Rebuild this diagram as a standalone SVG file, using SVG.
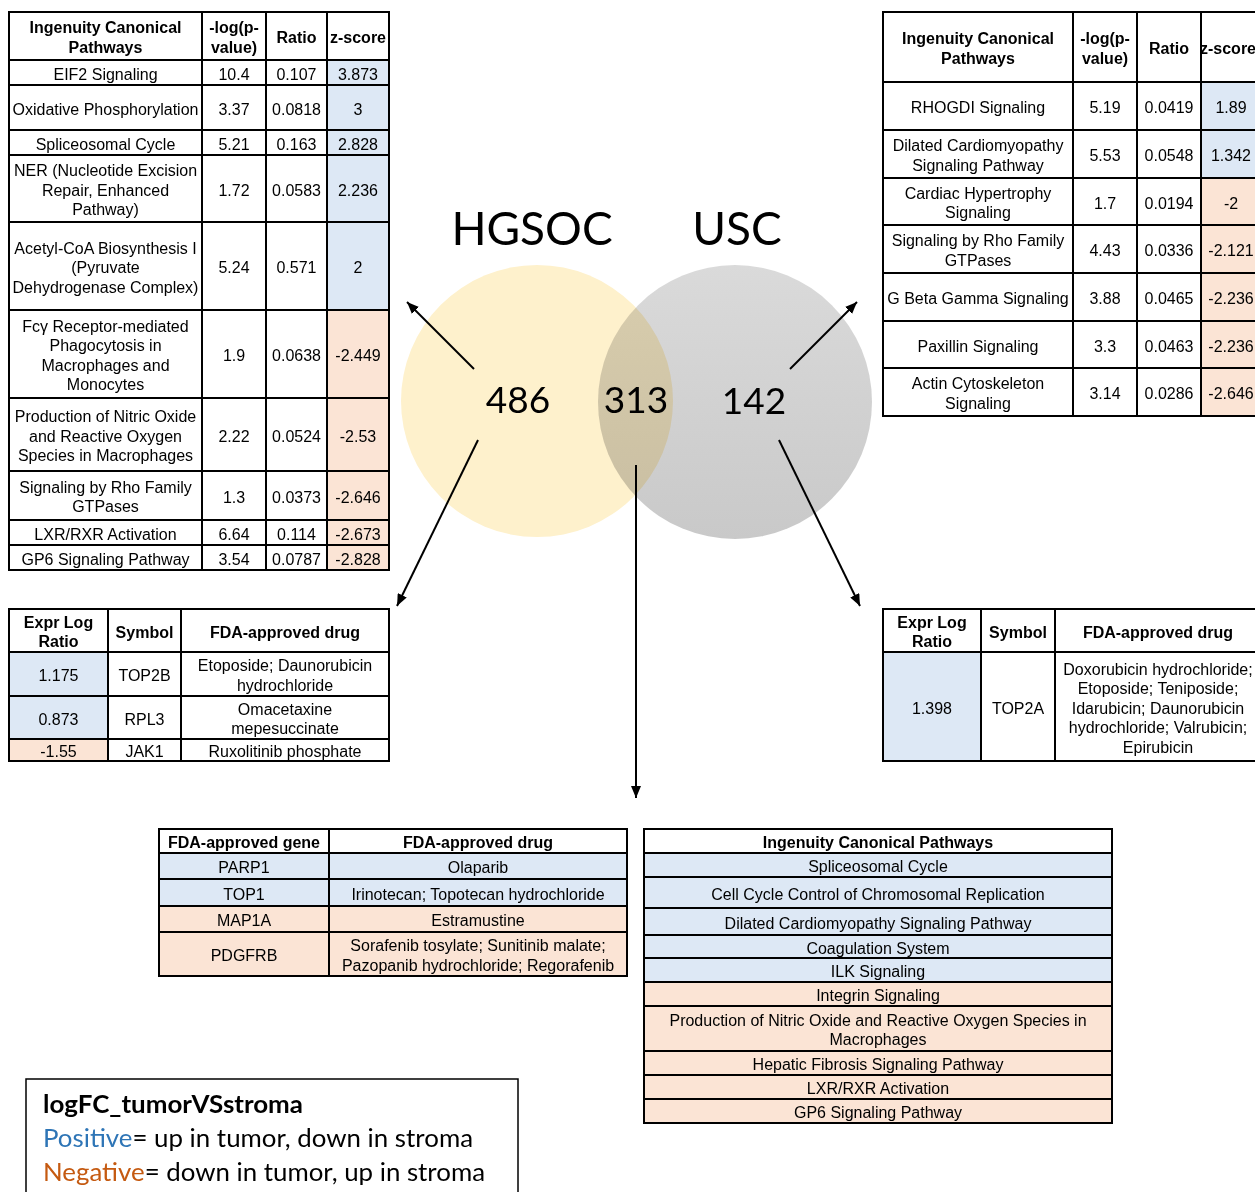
<svg xmlns="http://www.w3.org/2000/svg" width="1255" height="1192" viewBox="0 0 1255 1192">
<style>
.t{font-family:"Liberation Sans",Arial,sans-serif;font-size:16px;text-anchor:middle;fill:#000}
.b{font-weight:bold}
.bl{fill:#dde8f5}
.or{fill:#fbe4d5}
.g{stroke:#000;stroke-width:2;fill:none}
.v{font-family:Lato,"Open Sans",sans-serif;text-anchor:middle;fill:#000}
.lg{font-family:Lato,"Open Sans",sans-serif;font-size:25px;fill:#000}
.c{stroke:#000;stroke-width:2;fill:none;marker-end:url(#ah)}
</style>
<defs>
<marker id="ah" viewBox="0 0 12 10" refX="12" refY="5" markerWidth="12" markerHeight="10" markerUnits="userSpaceOnUse" orient="auto">
<path d="M0,0 L12,5 L0,10 z" fill="#000"/>
</marker>
<linearGradient id="gr" x1="0" y1="0" x2="0" y2="1">
<stop offset="0" stop-color="#dadada"/>
<stop offset="1" stop-color="#c9c9c9"/>
</linearGradient>
</defs>
<rect width="1255" height="1192" fill="#fff"/>

<g id="venn">
<circle cx="537" cy="401" r="136" fill="#fef1cc"/>
<circle cx="735" cy="402" r="137" fill="url(#gr)" style="mix-blend-mode:multiply"/>
<text class="v" x="532" y="245" font-size="46">HGSOC</text>
<text class="v" x="737" y="245" font-size="46">USC</text>
<text class="v" x="518" y="413" font-size="37">486</text>
<text class="v" x="636" y="413" font-size="37">313</text>
<text class="v" x="754" y="414" font-size="37">142</text>
</g>

<g id="connectors">
<line class="c" x1="474" y1="369" x2="407" y2="302"/>
<line class="c" x1="790" y1="369" x2="857" y2="302"/>
<line class="c" x1="478" y1="440" x2="397" y2="606"/>
<line class="c" x1="636" y1="465" x2="636" y2="798"/>
<line class="c" x1="779" y1="440" x2="860" y2="606"/>
</g>

<g id="hgsoc-pathways">
<rect class="bl" x="327" y="60" width="62" height="250"/>
<rect class="or" x="327" y="310" width="62" height="260"/>
<rect class="g" x="9" y="12" width="380" height="558"/>
<path class="g" d="M202,12V570M266,12V570M327,12V570M9,60H389M9,85H389M9,130H389M9,155H389M9,222H389M9,310H389M9,398H389M9,471H389M9,520H389M9,545H389"/>
<text class="t b" x="105.5" y="33">Ingenuity Canonical</text>
<text class="t b" x="105.5" y="53">Pathways</text>
<text class="t b" x="234" y="33">-log(p-</text>
<text class="t b" x="234" y="53">value)</text>
<text class="t b" x="296.5" y="43">Ratio</text>
<text class="t b" x="358" y="43">z-score</text>
<text class="t" x="105.5" y="79.5">EIF2 Signaling</text><text class="t" x="234" y="79.5">10.4</text><text class="t" x="296.5" y="79.5">0.107</text><text class="t" x="358" y="79.5">3.873</text>
<text class="t" x="105.5" y="114.5">Oxidative Phosphorylation</text><text class="t" x="234" y="114.5">3.37</text><text class="t" x="296.5" y="114.5">0.0818</text><text class="t" x="358" y="114.5">3</text>
<text class="t" x="105.5" y="149.5">Spliceosomal Cycle</text><text class="t" x="234" y="149.5">5.21</text><text class="t" x="296.5" y="149.5">0.163</text><text class="t" x="358" y="149.5">2.828</text>
<text class="t" x="105.5" y="176">NER (Nucleotide Excision</text><text class="t" x="105.5" y="195.5">Repair, Enhanced</text><text class="t" x="105.5" y="215">Pathway)</text>
<text class="t" x="234" y="195.5">1.72</text><text class="t" x="296.5" y="195.5">0.0583</text><text class="t" x="358" y="195.5">2.236</text>
<text class="t" x="105.5" y="253.5">Acetyl-CoA Biosynthesis I</text><text class="t" x="105.5" y="273">(Pyruvate</text><text class="t" x="105.5" y="292.5">Dehydrogenase Complex)</text>
<text class="t" x="234" y="273">5.24</text><text class="t" x="296.5" y="273">0.571</text><text class="t" x="358" y="273">2</text>
<text class="t" x="105.5" y="331.75">Fcγ Receptor-mediated</text><text class="t" x="105.5" y="351.25">Phagocytosis in</text><text class="t" x="105.5" y="370.75">Macrophages and</text><text class="t" x="105.5" y="390.25">Monocytes</text>
<text class="t" x="234" y="361">1.9</text><text class="t" x="296.5" y="361">0.0638</text><text class="t" x="358" y="361">-2.449</text>
<text class="t" x="105.5" y="422">Production of Nitric Oxide</text><text class="t" x="105.5" y="441.5">and Reactive Oxygen</text><text class="t" x="105.5" y="461">Species in Macrophages</text>
<text class="t" x="234" y="441.5">2.22</text><text class="t" x="296.5" y="441.5">0.0524</text><text class="t" x="358" y="441.5">-2.53</text>
<text class="t" x="105.5" y="492.75">Signaling by Rho Family</text><text class="t" x="105.5" y="512.25">GTPases</text>
<text class="t" x="234" y="502.5">1.3</text><text class="t" x="296.5" y="502.5">0.0373</text><text class="t" x="358" y="502.5">-2.646</text>
<text class="t" x="105.5" y="539.5">LXR/RXR Activation</text><text class="t" x="234" y="539.5">6.64</text><text class="t" x="296.5" y="539.5">0.114</text><text class="t" x="358" y="539.5">-2.673</text>
<text class="t" x="105.5" y="564.5">GP6 Signaling Pathway</text><text class="t" x="234" y="564.5">3.54</text><text class="t" x="296.5" y="564.5">0.0787</text><text class="t" x="358" y="564.5">-2.828</text>
</g>

<g id="usc-pathways">
<rect class="bl" x="1201" y="82" width="61" height="96"/>
<rect class="or" x="1201" y="178" width="61" height="238"/>
<rect class="g" x="883" y="12" width="379" height="404"/>
<path class="g" d="M1073,12V416M1137,12V416M1201,12V416M883,82H1262M883,130H1262M883,178H1262M883,225H1262M883,273H1262M883,321H1262M883,368H1262"/>
<text class="t b" x="978" y="44.25">Ingenuity Canonical</text>
<text class="t b" x="978" y="63.75">Pathways</text>
<text class="t b" x="1105" y="44.25">-log(p-</text>
<text class="t b" x="1105" y="63.75">value)</text>
<text class="t b" x="1169" y="54">Ratio</text>
<text class="t b" x="1228" y="54" font-size="15">z-score</text>
<text class="t" x="978" y="113">RHOGDI Signaling</text><text class="t" x="1105" y="113">5.19</text><text class="t" x="1169" y="113">0.0419</text><text class="t" x="1231" y="113">1.89</text>
<text class="t" x="978" y="151.25">Dilated Cardiomyopathy</text><text class="t" x="978" y="170.75">Signaling Pathway</text>
<text class="t" x="1105" y="161">5.53</text><text class="t" x="1169" y="161">0.0548</text><text class="t" x="1231" y="161">1.342</text>
<text class="t" x="978" y="198.75">Cardiac Hypertrophy</text><text class="t" x="978" y="218.25">Signaling</text>
<text class="t" x="1105" y="208.5">1.7</text><text class="t" x="1169" y="208.5">0.0194</text><text class="t" x="1231" y="208.5">-2</text>
<text class="t" x="978" y="246.25">Signaling by Rho Family</text><text class="t" x="978" y="265.75">GTPases</text>
<text class="t" x="1105" y="256">4.43</text><text class="t" x="1169" y="256">0.0336</text><text class="t" x="1231" y="256">-2.121</text>
<text class="t" x="978" y="304">G Beta Gamma Signaling</text><text class="t" x="1105" y="304">3.88</text><text class="t" x="1169" y="304">0.0465</text><text class="t" x="1231" y="304">-2.236</text>
<text class="t" x="978" y="351.5">Paxillin Signaling</text><text class="t" x="1105" y="351.5">3.3</text><text class="t" x="1169" y="351.5">0.0463</text><text class="t" x="1231" y="351.5">-2.236</text>
<text class="t" x="978" y="389.25">Actin Cytoskeleton</text><text class="t" x="978" y="408.75">Signaling</text>
<text class="t" x="1105" y="399">3.14</text><text class="t" x="1169" y="399">0.0286</text><text class="t" x="1231" y="399">-2.646</text>
</g>

<g id="hgsoc-drugs">
<rect class="bl" x="9" y="652" width="99" height="87"/>
<rect class="or" x="9" y="739" width="99" height="22"/>
<rect class="g" x="9" y="609" width="380" height="152"/>
<path class="g" d="M108,609V761M181,609V761M9,652H389M9,696H389M9,739H389"/>
<text class="t b" x="58.5" y="627.75">Expr Log</text>
<text class="t b" x="58.5" y="647.25">Ratio</text>
<text class="t b" x="144.5" y="637.5">Symbol</text>
<text class="t b" x="285" y="637.5">FDA-approved drug</text>
<text class="t" x="58.5" y="681">1.175</text><text class="t" x="144.5" y="681">TOP2B</text>
<text class="t" x="285" y="671.25">Etoposide; Daunorubicin</text><text class="t" x="285" y="690.75">hydrochloride</text>
<text class="t" x="58.5" y="724.5">0.873</text><text class="t" x="144.5" y="724.5">RPL3</text>
<text class="t" x="285" y="714.75">Omacetaxine</text><text class="t" x="285" y="734.25">mepesuccinate</text>
<text class="t" x="58.5" y="757">-1.55</text><text class="t" x="144.5" y="757">JAK1</text><text class="t" x="285" y="757">Ruxolitinib phosphate</text>
</g>

<g id="usc-drugs">
<rect class="bl" x="883" y="652" width="98" height="109"/>
<rect class="g" x="883" y="609" width="379" height="152"/>
<path class="g" d="M981,609V761M1055,609V761M883,652H1262"/>
<text class="t b" x="932" y="627.75">Expr Log</text>
<text class="t b" x="932" y="647.25">Ratio</text>
<text class="t b" x="1018" y="637.5">Symbol</text>
<text class="t b" x="1158" y="637.5">FDA-approved drug</text>
<text class="t" x="932" y="713.5">1.398</text><text class="t" x="1018" y="713.5">TOP2A</text>
<text class="t" x="1158" y="674.5">Doxorubicin hydrochloride;</text>
<text class="t" x="1158" y="694">Etoposide; Teniposide;</text>
<text class="t" x="1158" y="713.5">Idarubicin; Daunorubicin</text>
<text class="t" x="1158" y="733">hydrochloride; Valrubicin;</text>
<text class="t" x="1158" y="752.5">Epirubicin</text>
</g>

<g id="shared-drugs">
<rect class="bl" x="159" y="853" width="468" height="53"/>
<rect class="or" x="159" y="906" width="468" height="70"/>
<rect class="g" x="159" y="829" width="468" height="147"/>
<path class="g" d="M329,829V976M159,853H627M159,879H627M159,906H627M159,932H627"/>
<text class="t b" x="244" y="848">FDA-approved gene</text>
<text class="t b" x="478" y="848">FDA-approved drug</text>
<text class="t" x="244" y="873">PARP1</text><text class="t" x="478" y="873">Olaparib</text>
<text class="t" x="244" y="899.5">TOP1</text><text class="t" x="478" y="899.5">Irinotecan; Topotecan hydrochloride</text>
<text class="t" x="244" y="926">MAP1A</text><text class="t" x="478" y="926">Estramustine</text>
<text class="t" x="244" y="961">PDGFRB</text>
<text class="t" x="478" y="951.25">Sorafenib tosylate; Sunitinib malate;</text>
<text class="t" x="478" y="970.75">Pazopanib hydrochloride; Regorafenib</text>
</g>

<g id="shared-pathways">
<rect class="bl" x="644" y="853" width="468" height="129"/>
<rect class="or" x="644" y="982" width="468" height="141"/>
<rect class="g" x="644" y="829" width="468" height="294"/>
<path class="g" d="M644,853H1112M644,877H1112M644,908H1112M644,935H1112M644,958H1112M644,982H1112M644,1006H1112M644,1051H1112M644,1075H1112M644,1099H1112"/>
<text class="t b" x="878" y="848">Ingenuity Canonical Pathways</text>
<text class="t" x="878" y="872">Spliceosomal Cycle</text>
<text class="t" x="878" y="899.5">Cell Cycle Control of Chromosomal Replication</text>
<text class="t" x="878" y="928.5">Dilated Cardiomyopathy Signaling Pathway</text>
<text class="t" x="878" y="953.5">Coagulation System</text>
<text class="t" x="878" y="977">ILK Signaling</text>
<text class="t" x="878" y="1001">Integrin Signaling</text>
<text class="t" x="878" y="1025.75">Production of Nitric Oxide and Reactive Oxygen Species in</text>
<text class="t" x="878" y="1045.25">Macrophages</text>
<text class="t" x="878" y="1070">Hepatic Fibrosis Signaling Pathway</text>
<text class="t" x="878" y="1094">LXR/RXR Activation</text>
<text class="t" x="878" y="1118">GP6 Signaling Pathway</text>
</g>

<g id="legend">
<rect x="26" y="1079" width="492" height="130" fill="none" stroke="#000" stroke-width="1.5"/>
<text class="lg" x="43" y="1113" font-weight="bold" textLength="260" lengthAdjust="spacingAndGlyphs">logFC_tumorVSstroma</text>
<text class="lg" x="43" y="1147" textLength="430" lengthAdjust="spacingAndGlyphs"><tspan fill="#2e75b6">Positive</tspan>= up in tumor, down in stroma</text>
<text class="lg" x="43" y="1181" textLength="442" lengthAdjust="spacingAndGlyphs"><tspan fill="#c55a11">Negative</tspan>= down in tumor, up in stroma</text>
</g>
</svg>
